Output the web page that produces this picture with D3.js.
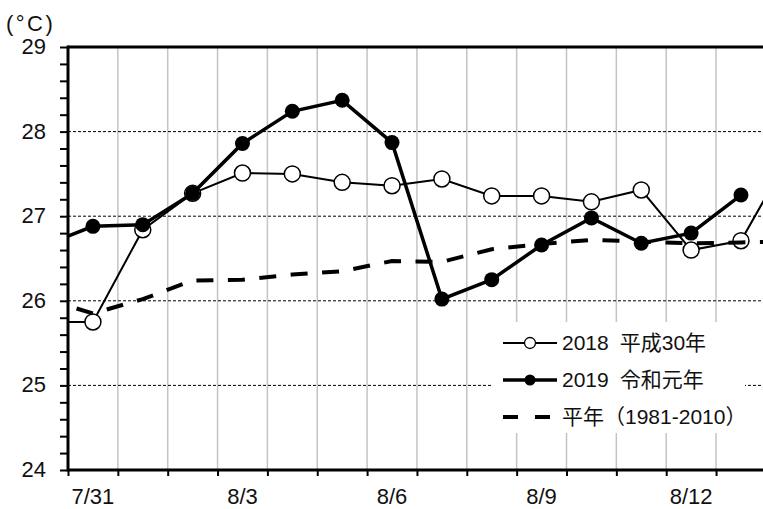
<!DOCTYPE html>
<html>
<head>
<meta charset="utf-8">
<script src="https://cdn.jsdelivr.net/npm/d3@7"></script>
<style>
  body { margin: 0; background: #fff; }
  svg { display: block; overflow: hidden; }
  text { font-family: "Liberation Sans", Arial, "Noto Sans CJK JP", sans-serif; fill: #111; }
</style>
</head>
<body>
<div class="chart"></div>
<script>
// days: 7/30 and 8/14 fall just outside the visible plot (clipped)
var days = ["7/30","7/31","8/1","8/2","8/3","8/4","8/5","8/6","8/7","8/8","8/9","8/10","8/11","8/12","8/13","8/14"];
var y2018 = [25.75, 25.75, 26.84, 27.27, 27.51, 27.50, 27.40, 27.36, 27.44, 27.24, 27.24, 27.17, 27.31, 26.60, 26.71, 27.75];
var y2019 = [26.65, 26.88, 26.90, 27.27, 27.86, 28.24, 28.37, 27.87, 26.02, 26.25, 26.66, 26.98, 26.68, 26.80, 27.25, null];
var yNormal = [26.03, 25.85, 26.02, 26.24, 26.25, 26.31, 26.35, 26.47, 26.46, 26.61, 26.67, 26.72, 26.70, 26.68, 26.69, 26.70];
var xLabels = ["7/31","8/3","8/6","8/9","8/12"];
var yTicks = [24, 25, 26, 27, 28, 29];
var legendYears = ["2018", "2019", ""];
var legendNames = ["平成30年", "令和元年", "平年（1981-2010）"];

var svgWidth = 763, svgHeight = 509;
var plotLeft = 68, plotTop = 47, plotBottom = 470;
var dayW = 49.85;
var nBands = 15;

var svg = d3.select(".chart").append("svg")
  .attr("width", svgWidth)
  .attr("height", svgHeight);

// band k (0 = 7/31) spans x(k)..x(k+1); days[i] sits at the centre of band i-1
var x = d3.scaleLinear().domain([0, nBands]).range([plotLeft, plotLeft + nBands * dayW]);
var y = d3.scaleLinear().domain([24, 29]).range([plotBottom, plotTop]);
var cx = function(i) { return x(i - 0.5); };

svg.append("defs").append("clipPath").attr("id", "plotclip")
  .append("rect").attr("x", plotLeft).attr("y", plotTop - 10)
  .attr("width", svgWidth - plotLeft).attr("height", plotBottom - plotTop + 20);

// vertical gridlines at band edges
svg.append("g").selectAll("line")
  .data(d3.range(1, nBands))
  .enter().append("line")
  .attr("x1", d => x(d)).attr("x2", d => x(d))
  .attr("y1", plotTop).attr("y2", plotBottom)
  .attr("stroke", "#c4c4c4").attr("stroke-width", 1.5);

// horizontal dotted gridlines
svg.append("g").selectAll("line")
  .data([25, 26, 27, 28])
  .enter().append("line")
  .attr("x1", plotLeft).attr("x2", svgWidth)
  .attr("y1", d => y(d)).attr("y2", d => y(d))
  .attr("stroke", "#000").attr("stroke-width", 1)
  .attr("stroke-dasharray", "3,2");

// legend background hides gridlines behind it
svg.append("rect")
  .attr("x", 493).attr("y", 322).attr("width", 252).attr("height", 111)
  .attr("fill", "#fff");

// y axis
var leftAxis = d3.axisLeft(y)
  .tickValues(d3.range(24, 29.01, 0.2))
  .tickSize(8)
  .tickFormat("");
var yAx = svg.append("g").attr("transform", `translate(${plotLeft},0)`).call(leftAxis);
yAx.select(".domain").remove();
yAx.selectAll("line").attr("stroke", "#000").attr("stroke-width", 2);
svg.append("line").attr("x1", plotLeft).attr("x2", plotLeft).attr("y1", plotTop - 1.5).attr("y2", plotBottom + 1.5)
  .attr("stroke", "#000").attr("stroke-width", 3);

svg.append("g").selectAll("text")
  .data(yTicks)
  .enter().append("text")
  .attr("x", 46).attr("y", d => y(d)).attr("dy", "0.32em")
  .attr("text-anchor", "end")
  .attr("font-size", 22)
  .text(d => d);

// x axis
var bottomAxis = d3.axisBottom(x)
  .tickValues(d3.range(0, nBands + 1))
  .tickSize(6)
  .tickFormat("");
var xAx = svg.append("g").attr("transform", `translate(0,${plotBottom})`).call(bottomAxis);
xAx.select(".domain").remove();
xAx.selectAll("line").attr("stroke", "#000").attr("stroke-width", 2);
svg.append("line").attr("x1", plotLeft).attr("x2", svgWidth).attr("y1", plotBottom).attr("y2", plotBottom)
  .attr("stroke", "#000").attr("stroke-width", 3);
svg.append("line").attr("x1", plotLeft).attr("x2", svgWidth).attr("y1", plotTop).attr("y2", plotTop)
  .attr("stroke", "#000").attr("stroke-width", 3);

svg.append("g").selectAll("text")
  .data(xLabels)
  .enter().append("text")
  .attr("x", d => cx(days.indexOf(d)))
  .attr("y", 504)
  .attr("text-anchor", "middle")
  .attr("font-size", 22)
  .text(d => d);

// unit label
svg.append("text").attr("x", 6).attr("y", 31)
  .attr("font-size", 22).attr("letter-spacing", 2.5)
  .text("(°C)");

// series
var plot = svg.append("g").attr("clip-path", "url(#plotclip)");
var line = d3.line()
  .defined(d => d != null)
  .x((d, i) => cx(i))
  .y(d => y(d));

plot.append("path").datum(y2018)
  .attr("d", line).attr("fill", "none")
  .attr("stroke", "#000").attr("stroke-width", 2);
plot.append("g").selectAll("circle")
  .data(y2018.map((v, i) => [i, v]))
  .enter().append("circle")
  .attr("cx", d => cx(d[0])).attr("cy", d => y(d[1])).attr("r", 8)
  .attr("fill", "#fff").attr("stroke", "#000").attr("stroke-width", 1.5);

plot.append("path").datum(yNormal)
  .attr("d", line).attr("fill", "none")
  .attr("stroke", "#000").attr("stroke-width", 4)
  .attr("stroke-dasharray", "17,14.5")
  .attr("stroke-dashoffset", -3.5);

plot.append("path").datum(y2019)
  .attr("d", line).attr("fill", "none")
  .attr("stroke", "#000").attr("stroke-width", 3.5);
plot.append("g").selectAll("circle")
  .data(y2019.map((v, i) => [i, v]).filter(d => d[1] != null))
  .enter().append("circle")
  .attr("cx", d => cx(d[0])).attr("cy", d => y(d[1])).attr("r", 7.5)
  .attr("fill", "#000");

// legend
var legend = svg.append("g");
var rowsY = [343, 380, 417];
legend.append("line").attr("x1", 503).attr("x2", 557).attr("y1", rowsY[0]).attr("y2", rowsY[0])
  .attr("stroke", "#000").attr("stroke-width", 2);
legend.append("circle").attr("cx", 530).attr("cy", rowsY[0]).attr("r", 5.5)
  .attr("fill", "#fff").attr("stroke", "#000").attr("stroke-width", 1.3);
legend.append("line").attr("x1", 503).attr("x2", 557).attr("y1", rowsY[1]).attr("y2", rowsY[1])
  .attr("stroke", "#000").attr("stroke-width", 3.5);
legend.append("circle").attr("cx", 530).attr("cy", rowsY[1]).attr("r", 5.5)
  .attr("fill", "#000");
legend.append("line").attr("x1", 503).attr("x2", 557).attr("y1", rowsY[2]).attr("y2", rowsY[2])
  .attr("stroke", "#000").attr("stroke-width", 4).attr("stroke-dasharray", "15,17");

var legendText = legend.selectAll("text")
  .data(legendNames)
  .enter().append("text")
  .attr("x", 562).attr("y", (d, i) => rowsY[i]).attr("dy", "0.35em")
  .attr("font-size", 21);
legendText.append("tspan").text((d, i) => legendYears[i]);
legendText.append("tspan")
  .attr("dx", (d, i) => legendYears[i] ? 11 : 0)
  .text(d => d);
</script>
</body>
</html>
